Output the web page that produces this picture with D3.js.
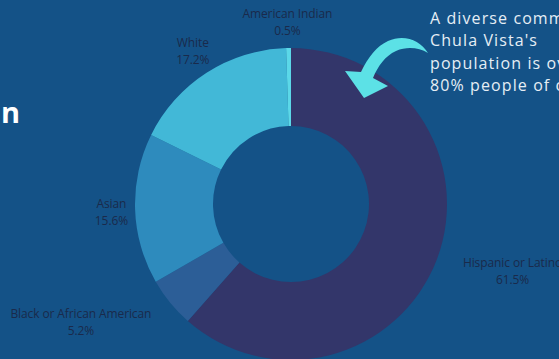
<!DOCTYPE html>
<html>
<head>
<meta charset="utf-8">
<script src="https://cdn.jsdelivr.net/npm/d3@7"></script>
<style>
  html, body { margin: 0; padding: 0; background: #145287; overflow: hidden; }
  svg { display: block; }
</style>
</head>
<body>
<svg width="559" height="359"></svg>
<script>
// Chula Vista population by race / ethnicity
const groups = ["Hispanic or Latino", "Black or African American", "Asian", "White", "American Indian"];
const shares = [61.5, 5.2, 15.6, 17.2, 0.5];
const sliceColors = ["#33366a", "#2c5e97", "#2e8bbd", "#42b8d7", "#5bd8e8"];
const noteLines = ["A diverse community:", "Chula Vista's", "population is over", "80% people of color"];

const svg = d3.select("svg"),
      width = +svg.attr("width"),
      height = +svg.attr("height");

const cx = 291, cy = 204,
      outerR = 156, innerR = 78;

const data = groups.map((g, i) => ({ name: g, value: shares[i] }));

const color = d3.scaleOrdinal().domain(groups).range(sliceColors);

const pie = d3.pie()
    .value(d => d.value)
    .sort(null);

const arc = d3.arc()
    .innerRadius(innerR)
    .outerRadius(outerR);

const arcs = pie(data);

// title fragment cut by the left edge (only the last letter shows)
svg.append("text")
    .attr("x", 26)
    .attr("y", 123)
    .attr("text-anchor", "end")
    .attr("fill", "#ffffff")
    .style("font-family", "'Open Sans', sans-serif")
    .style("font-weight", 700)
    .style("font-size", "29px")
    .style("letter-spacing", "6px")
    .text("Population");

const g = svg.append("g")
    .attr("transform", `translate(${cx},${cy})`);

g.selectAll("path")
    .data(arcs)
    .join("path")
    .attr("fill", d => color(d.data.name))
    .attr("d", arc);

// labels outside the ring
const labels = g.selectAll("g.label")
    .data(arcs)
    .join("g")
    .attr("class", "label")
    .style("font-family", "'Open Sans', sans-serif")
    .style("font-size", "12px")
    .style("letter-spacing", "-0.1px")
    .attr("fill", "#1a2a4b")
    .attr("text-anchor", "middle");

labels.append("text")
    .attr("class", "name")
    .attr("y", -4)
    .text(d => d.data.name);

labels.append("text")
    .attr("y", 13)
    .text(d => d3.format(".1f")(d.data.value) + "%");

labels.attr("transform", function(d) {
    const a = (d.startAngle + d.endAngle) / 2;
    const s = Math.sin(a), c = Math.cos(a);
    const w = d3.select(this).select("text.name").node().getComputedTextLength();
    const x = s * 155 + s * 1.65 * w / 2;
    const y = -c * 184 + 2;
    return `translate(${x},${y})`;
});

// annotation arrow
svg.append("path")
    .attr("fill", "#5ce1e6")
    .attr("d", "M428,53 C420,40 404,34 388,41 C377,46 368,57 361,72 L345,71 L364,98 L388,86 L373,78 C378,66 385,56 396,51 C408,46 419,48 428,53 Z");

// annotation text
const note = svg.append("text")
    .attr("x", 430)
    .attr("y", 23.5)
    .attr("fill", "#e6eef5")
    .style("font-family", "'Open Sans', sans-serif")
    .style("font-size", "16px")
    .style("letter-spacing", "1.1px");

note.selectAll("tspan")
    .data(noteLines)
    .join("tspan")
    .attr("x", 430)
    .attr("dy", (d, i) => i === 0 ? 0 : 22.5)
    .text(d => d);
</script>
</body>
</html>
